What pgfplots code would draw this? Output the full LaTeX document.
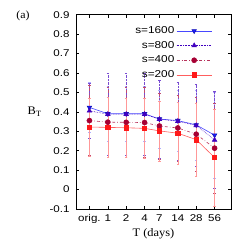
\documentclass[border=0pt]{standalone}
\usepackage{fontspec}
\setmainfont{Liberation Sans}[FakeStretch=1.18]
\newfontfamily\serif{Liberation Serif}[FakeStretch=1.08]
\usepackage{pgfplots}
\usepackage{pgfplotstable}
\pgfplotsset{compat=1.18}
\definecolor{cA}{rgb}{0.1,0.1,1}
\definecolor{cB}{rgb}{0.25,0,0.75}
\definecolor{cC}{rgb}{0.65,0,0.2}
\definecolor{cD}{rgb}{1,0.1,0.1}
\pgfplotstableread{
x y e
-1 0.423 0.13
0 0.390 0.14
1 0.390 0.14
2 0.390 0.14
2.807 0.363 0.15
3.807 0.355 0.155
4.807 0.333 0.18
5.807 0.280 0.22
}\dataA
\pgfplotstableread{
x y e
-1 0.405 0.14
0 0.388 0.21
1 0.388 0.21
2 0.388 0.21
2.807 0.362 0.20
3.807 0.352 0.20
4.807 0.330 0.21
5.807 0.255 0.25
}\dataB
\pgfplotstableread{
x y e
-1 0.355 0.18
0 0.347 0.18
1 0.346 0.18
2 0.345 0.18
2.807 0.327 0.17
3.807 0.317 0.17
4.807 0.285 0.19
5.807 0.213 0.23
}\dataC
\pgfplotstableread{
x y e
-1 0.322 0.15
0 0.320 0.155
1 0.318 0.15
2 0.315 0.155
2.807 0.302 0.155
3.807 0.290 0.16
4.807 0.257 0.19
5.807 0.165 0.25
}\dataD
\begin{document}
\begin{tikzpicture}[x=1pt,y=1pt]
\begin{axis}[
  at={(76pt,40pt)}, anchor=south west,
  scale only axis, width=155pt, height=194.3pt,
  xmin=-1.73, xmax=6.7, ymin=-0.1, ymax=0.9,
  xtick={-1,0,1,2,2.807,3.807,4.807,5.807},
  xticklabels={orig.,1,2,4,7,14,28,56},
  ytick={-0.1,0,0.1,0.2,0.3,0.4,0.5,0.6,0.7,0.8,0.9},
  yticklabel style={/pgf/number format/fixed,/pgf/number format/precision=1, xshift=-3pt},
  xticklabel style={yshift=-2pt},
  /pgf/number format/assume math mode=true,
  tick label style={font=\fontsize{9.8}{11}\selectfont},
  tick align=inside, major tick length=3pt,
  tick style={black, line width=0.5pt},
  axis line style={line width=0.6pt},
  xlabel={\serif T (days)},
  xlabel style={font=\fontsize{11.5}{13}\selectfont, yshift=2pt},
  ylabel={\serif B\textsubscript{T}},
  ylabel style={font=\fontsize{11.5}{13}\selectfont, rotate=-90, at={(ticklabel cs:0.5)}, anchor=east, xshift=-1pt},
  legend plot pos=right,
  legend cell align=right,
  legend style={draw=none, fill=none, at={(rel axis cs:0.885,0.955)}, anchor=north east, font=\fontsize{10}{11}\selectfont, row sep=2.2pt, inner sep=1pt},
  legend image code/.code={\draw[#1, mark repeat=2, mark phase=2] plot coordinates {(0pt,0pt)(17.5pt,0pt)(35pt,0pt)};},
  every axis plot/.append style={line width=0.6pt},
  error bars/error bar style={line width=0.4pt, solid},
  error bars/error mark options={rotate=90, mark size=1.3pt, line width=0.4pt},
]
\addplot[cA!80, solid, mark=triangle*, mark size=2.6pt, mark options={rotate=180, fill=cA, draw=cA!70!black, solid},
  error bars/.cd, y dir=both, y explicit, error bar style={cA!35}] table[x=x,y=y,y error=e] {\dataA};
\addlegendentry{s=1600}
\addplot[cB, densely dotted, mark=triangle*, mark size=2.6pt, mark options={fill=cB, solid},
  error bars/.cd, y dir=both, y explicit, error bar style={cB!70, densely dotted}] table[x=x,y=y,y error=e] {\dataB};
\addlegendentry{s=800}
\addplot[cC!80, dashdotted, mark=*, mark size=2.5pt, mark options={fill=cC, draw=cC, solid},
  error bars/.cd, y dir=both, y explicit, error bar style={cC!70, dashdotted}] table[x=x,y=y,y error=e] {\dataC};
\addlegendentry{s=400}
\addplot[cD!70, solid, mark=square*, mark size=2.2pt, mark options={fill=cD, draw=cD, solid},
  error bars/.cd, y dir=both, y explicit, error bar style={cD!45}] table[x=x,y=y,y error=e] {\dataD};
\addlegendentry{s=200}
\end{axis}
\node[font=\serif\fontsize{11}{13}\selectfont] at (23pt,233.5pt) {(a)};
\pgfresetboundingbox
\useasboundingbox (0,0) rectangle (249pt,249pt);
\end{tikzpicture}
\end{document}
